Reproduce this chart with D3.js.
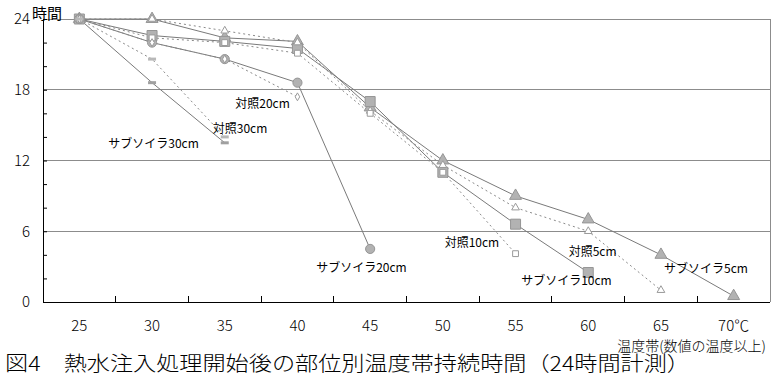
<!DOCTYPE html>
<html><head><meta charset="utf-8">
<script src="https://cdn.jsdelivr.net/npm/d3@7"></script>
<style>
html,body{margin:0;padding:0;background:#fff;}
text{font-family:"Noto Sans CJK JP","Noto Sans",sans-serif;fill:#000;}
</style></head>
<body><svg id="c" width="776" height="380"></svg>
<script>
// ---- data ----
const categories = ['25','30','35','40','45','50','55','60','65','70'];
const xTickLabels = ['25','30','35','40','45','50','55','60','65','70℃'];
const yLabelTicks = [0,6,12,18,24];
const yMinorTicks = [0,2,4,6,8,10,12,14,16,18,20,22,24];
const yGrid = [6,12,18,24];
const sub5  = [24,24,22.4,22.1,16.5,12,9,7,4,0.5];
const ctl5  = [24,24,23,22,16.2,11.6,8,6,1];
const sub10 = [24,22.6,22.1,21.5,17,11,6.6,2.5];
const ctl10 = [24,22.4,22,21.1,16,11,4.1];
const sub20 = [24,22,20.6,18.6,4.5];
const ctl20 = [24,22,20.6,17.4];
const sub30 = [24,18.6,13.5];
const ctl30 = [24,20.6,14];
const seriesNames = ['サブソイラ5cm','対照5cm','サブソイラ10cm','対照10cm','サブソイラ20cm','対照20cm','サブソイラ30cm','対照30cm'];
// label anchor in data units [temperature, hours]
const labelTemps = [68.1,60.3,58.5,52.0,44.4,37.6,30.1,36.05];
const labelHours = [2.9,4.33,1.95,5.09,3.05,16.96,13.49,14.76];

const series = [
  {name:seriesNames[0], v:sub5,  sub:true,  shape:'tri'},
  {name:seriesNames[1], v:ctl5,  sub:false, shape:'tri'},
  {name:seriesNames[2], v:sub10, sub:true,  shape:'sq'},
  {name:seriesNames[3], v:ctl10, sub:false, shape:'sq'},
  {name:seriesNames[4], v:sub20, sub:true,  shape:'circ'},
  {name:seriesNames[5], v:ctl20, sub:false, shape:'dia'},
  {name:seriesNames[6], v:sub30, sub:true,  shape:'dash'},
  {name:seriesNames[7], v:ctl30, sub:false, shape:'dash'}
];

const svg = d3.select('#c');
const L=43, R=770, T=19, B=302;
const x = d3.scaleBand().domain(categories).range([L,R]).padding(0);
const y = d3.scaleLinear().domain([0,24]).range([B,T]);
const cx = c => x(c) + x.bandwidth()/2;
const xT = t => cx('25') + (t-25)/5*x.step();

// grid
svg.append('g').selectAll('line').data(yGrid).join('line')
  .attr('x1',L).attr('x2',R).attr('y1',d=>y(d)).attr('y2',d=>y(d))
  .attr('stroke','#8c8c8c').attr('stroke-width',1).attr('shape-rendering','crispEdges');
svg.append('line').attr('x1',R).attr('x2',R).attr('y1',T).attr('y2',B)
  .attr('stroke','#8c8c8c').attr('shape-rendering','crispEdges');

// y axis
const ya = svg.append('g').attr('transform',`translate(${L},0)`)
  .call(d3.axisLeft(y).tickValues(yMinorTicks).tickSizeInner(-4).tickSizeOuter(0).tickPadding(13)
    .tickFormat(d=> yLabelTicks.includes(d) ? d : ''));
ya.select('.domain').attr('stroke','#000');
ya.selectAll('.tick line').attr('stroke','#000');
ya.selectAll('text').attr('font-size',15).style('font-weight',300);

// x axis: line, boundary ticks, labels
svg.append('line').attr('x1',L).attr('x2',R).attr('y1',B).attr('y2',B).attr('stroke','#000').attr('shape-rendering','crispEdges');
svg.append('g').selectAll('line').data(categories.slice(1)).join('line')
  .attr('x1',d=>x(d)).attr('x2',d=>x(d)).attr('y1',B).attr('y2',B-6)
  .attr('stroke','#000').attr('shape-rendering','crispEdges');
const xa = svg.append('g').attr('transform',`translate(0,${B})`)
  .call(d3.axisBottom(x).tickSize(0).tickPadding(18).tickFormat((d,i)=>xTickLabels[i]));
xa.select('.domain').remove();
xa.selectAll('text').attr('font-size',15).style('font-weight',300);

// lines
const line = d3.line().x((d,i)=>cx(categories[i])).y(d=>y(d));
svg.append('g').selectAll('path').data(series).join('path')
  .attr('d',s=>line(s.v)).attr('fill','none')
  .attr('stroke',s=>s.sub?'#7a7a7a':'#8a8a8a')
  .attr('stroke-width',1)
  .attr('stroke-dasharray',s=>s.sub?null:'2,3');

// markers
function drawMarkers(s){
  const g = svg.append('g');
  const pts = s.v.map((v,i)=>({x:cx(categories[i]), y:y(v)}));
  const fill = s.sub ? '#b2b2b2' : '#fff';
  const stroke = s.sub ? '#959595' : '#9a9a9a';
  if (s.shape==='dash'){
    g.selectAll('rect').data(pts).join('rect')
      .attr('x',p=>p.x-4).attr('y',p=>p.y-1.5).attr('width',8).attr('height',3)
      .attr('fill',s.sub?'#a0a0a0':'#b8b8b8');
    return;
  }
  let type, size;
  if (s.shape==='tri'){ type=d3.symbolTriangle; size=s.sub?62:26; }
  if (s.shape==='sq'){ type=d3.symbolSquare; size=s.sub?100:34; }
  if (s.shape==='circ'){ type=d3.symbolCircle; size=s.sub?66:30; }
  if (s.shape==='dia'){ type=d3.symbolDiamond; size=18; }
  g.selectAll('path').data(pts).join('path')
    .attr('transform',p=>`translate(${p.x},${p.y})`)
    .attr('d',d3.symbol().type(type).size(size))
    .attr('fill',fill).attr('stroke',stroke).attr('stroke-width',1);
}
series.filter(s=>s.sub).forEach(drawMarkers);
series.filter(s=>!s.sub).forEach(drawMarkers);

// series labels
svg.append('g').selectAll('text').data(series).join('text')
  .attr('x',(s,i)=>xT(labelTemps[i])).attr('y',(s,i)=>y(labelHours[i]))
  .attr('text-anchor','middle').attr('dominant-baseline','central')
  .attr('font-size',12).text(s=>s.name);

// titles
svg.append('text').attr('x',32).attr('y',12).attr('dominant-baseline','central')
  .attr('font-size',15).text('時間');
svg.append('text').attr('x',766).attr('y',345).attr('text-anchor','end').attr('dominant-baseline','central')
  .attr('font-size',14).style('font-weight',300).text('温度帯(数値の温度以上)');
svg.append('text').attr('x',5).attr('y',362).attr('dominant-baseline','central')
  .attr('font-size',20).style('font-weight',300).attr('textLength',685).attr('lengthAdjust','spacingAndGlyphs')
  .text('図4　熱水注入処理開始後の部位別温度帯持続時間（24時間計測）');
</script></body></html>
